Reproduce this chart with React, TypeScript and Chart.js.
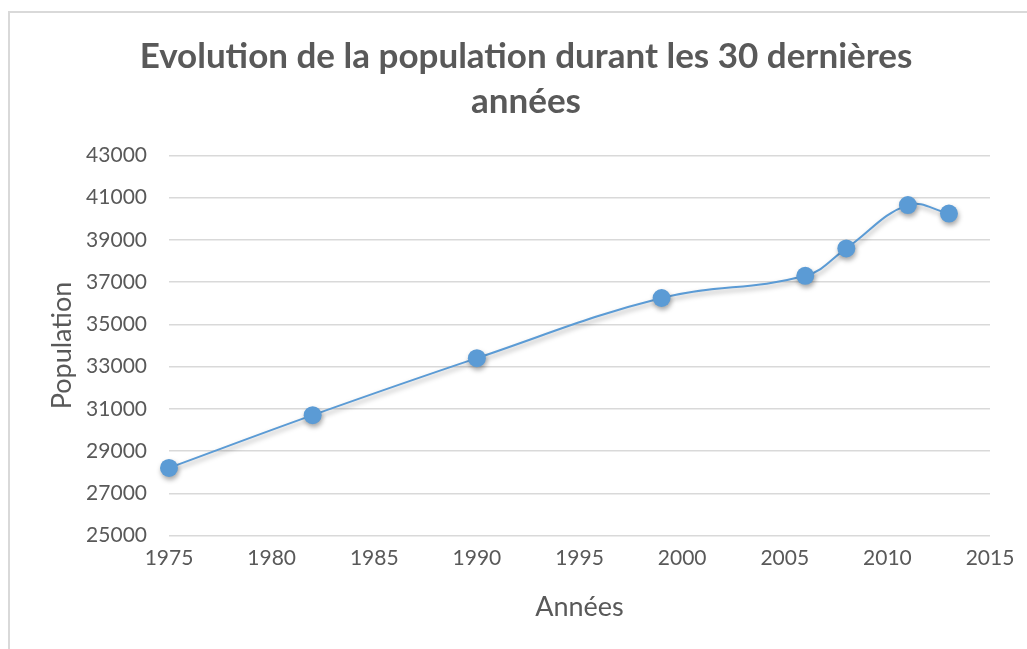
import React, { useEffect, useRef } from "react";
import { Chart, registerables } from "chart.js";

Chart.register(...registerables);

const titleLines = ["Evolution de la population durant les 30 dernières", "années"];
const years = [1975, 1982, 1990, 1999, 2006, 2008, 2011, 2013];
const population = [28200, 30700, 33400, 36250, 37300, 38600, 40650, 40250];
const xAxisTitle = "Années";
const yAxisTitle = "Population";
const xRange = { min: 1975, max: 2015, step: 5 };
const yRange = { min: 25000, max: 43000, step: 2000 };

const TEXT = "#595959";
const GRID = "#d9d9d9";
const BLUE = "#5b9bd5";
const FONT = "Lato";

const shadowPlugin = {
  id: "pointShadow",
  beforeDatasetsDraw(chart: any) {
    const ctx = chart.ctx;
    ctx.save();
    ctx.shadowColor = "rgba(0,0,0,0.35)";
    ctx.shadowBlur = 5;
    ctx.shadowOffsetX = 1;
    ctx.shadowOffsetY = 3;
  },
  afterDatasetsDraw(chart: any) {
    chart.ctx.restore();
  },
};

const titlePlugin = {
  id: "twoLineTitle",
  afterDraw(chart: any) {
    const ctx = chart.ctx;
    ctx.save();
    ctx.font = `bold 35px ${FONT}`;
    ctx.fillStyle = TEXT;
    ctx.textAlign = "center";
    ctx.textBaseline = "middle";
    titleLines.forEach((line, i) => ctx.fillText(line, 516, 44 + i * 45));
    ctx.restore();
  },
};

export default function App() {
  const canvasRef = useRef<HTMLCanvasElement>(null);

  useEffect(() => {
    if (!canvasRef.current) return;
    const chart = new Chart(canvasRef.current, {
      type: "scatter",
      data: {
        datasets: [
          {
            data: years.map((y, i) => ({ x: y, y: population[i] })),
            showLine: true,
            tension: 0.4,
            borderColor: BLUE,
            borderWidth: 2,
            backgroundColor: BLUE,
            pointBackgroundColor: BLUE,
            pointBorderColor: BLUE,
            pointBorderWidth: 0,
            pointRadius: 9,
            pointHoverRadius: 9,
            clip: false,
          } as any,
        ],
      },
      options: {
        animation: false,
        responsive: false,
        devicePixelRatio: 1,
        layout: { padding: { top: 142.5, right: 37, bottom: 0, left: 0 } },
        plugins: {
          legend: { display: false },
          tooltip: { enabled: false },
          title: { display: false },
        },
        scales: {
          x: {
            type: "linear",
            min: xRange.min,
            max: xRange.max,
            afterFit(scale: any) {
              scale.height = 113.5;
            },
            ticks: {
              stepSize: xRange.step,
              color: TEXT,
              font: { family: FONT, size: 21 },
              padding: 10,
              maxRotation: 0,
              callback: (v: any) => String(v),
            },
            grid: { display: false, drawTicks: false },
            border: { display: false },
            title: {
              display: true,
              text: xAxisTitle,
              color: TEXT,
              font: { family: FONT, size: 27 },
              padding: { top: 0, bottom: 25.8 },
            },
          },
          y: {
            type: "linear",
            min: yRange.min,
            max: yRange.max,
            afterFit(scale: any) {
              scale.width = 159;
            },
            ticks: {
              stepSize: yRange.step,
              color: TEXT,
              font: { family: FONT, size: 21 },
              padding: 22,
              callback: (v: any) => String(v),
            },
            grid: { color: GRID, lineWidth: 1.5, drawTicks: false },
            border: { display: false },
            title: {
              display: true,
              text: yAxisTitle,
              color: TEXT,
              font: { family: FONT, size: 27 },
              padding: { top: 35.8, bottom: 0 },
            },
          },
        },
      },
      plugins: [shadowPlugin, titlePlugin],
    });
    return () => chart.destroy();
  }, []);

  return (
    <div
      style={{
        position: "fixed",
        left: 8,
        top: 11,
        width: 1019,
        height: 638,
        overflow: "hidden",
        borderTop: `2px solid ${GRID}`,
        borderLeft: `2px solid ${GRID}`,
        background: "#fff",
        boxSizing: "border-box",
      }}
    >
      <canvas ref={canvasRef} width={1017} height={636} style={{ display: "block" }} />
    </div>
  );
}
